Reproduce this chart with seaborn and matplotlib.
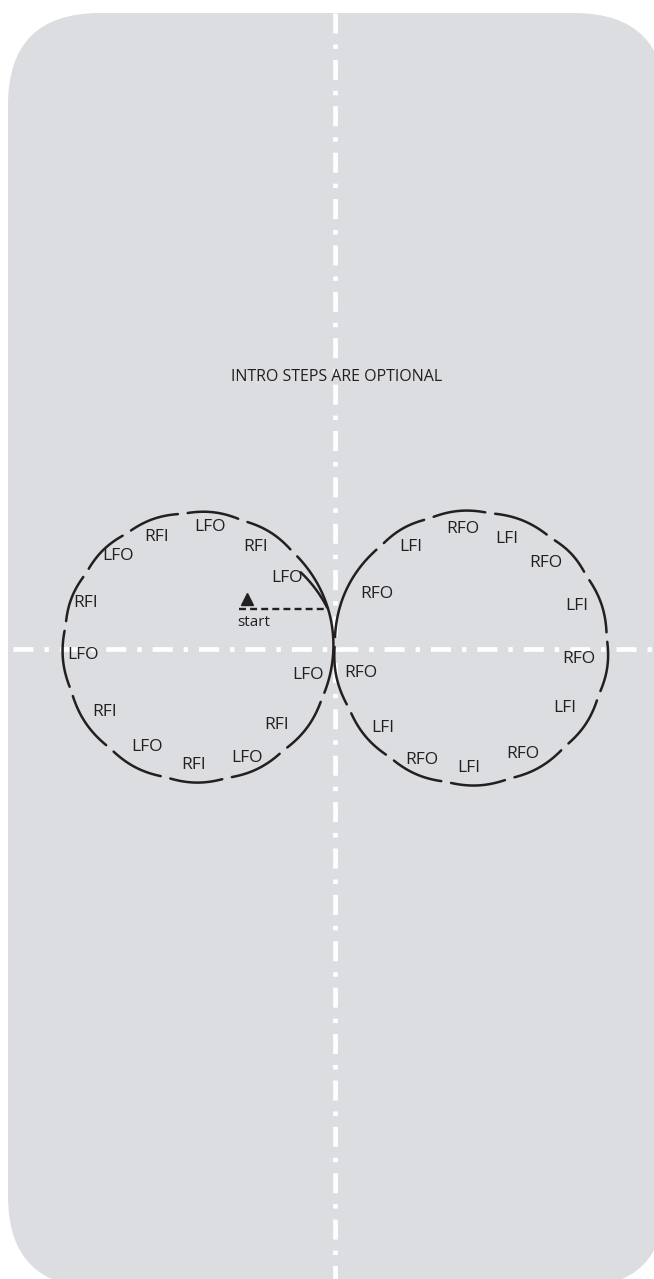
import numpy as np
import pandas as pd
import seaborn as sns
import matplotlib.pyplot as plt
from matplotlib.patches import FancyBboxPatch

# circle geometry (pixels, y down)
left_center = (198, 647)
left_radius = 135
right_center = (471, 648)
right_radius = 137

# step arcs, degrees (counter-clockwise, 0 = right)
left_arcs = [(46, 69), (72, 95), (98, 120.5), (123.5, 145), (148, 169.5),
             (172.5, 197.8), (200.8, 227.5), (230.5, 254.5), (257.5, 281),
             (284, 308), (311, 336.5), (339.5, 403)]
right_arcs = [(6, 30.4), (33.4, 52.7), (55.7, 80.4), (83.4, 106.5), (109.5, 130.3),
              (133.3, 176), (179, 205), (208, 232), (235, 258), (261, 285),
              (288, 312), (315, 338), (341, 363.2)]
# entry hook from the start line
hook_theta = (36, 17)
hook_r = (127, 135)

left_labels = ["LFO", "RFI", "LFO", "RFI", "LFO", "RFI", "LFO",
               "RFI", "LFO", "RFI", "LFO", "LFO", "RFI"]
left_lx = [210, 157, 118, 86, 83, 105, 147, 194, 247, 277, 308, 287, 256]
left_ly = [527, 537, 556, 603, 655, 712, 747, 765, 758, 725, 675, 578, 547]

right_labels = ["RFO", "LFI", "RFO", "LFI", "RFO", "LFI", "RFO",
                "LFI", "RFO", "LFI", "RFO", "RFO", "LFI"]
right_lx = [463, 507, 546, 577, 579, 565, 523, 469, 422, 383, 361, 377, 411]
right_ly = [529, 539, 563, 606, 659, 708, 754, 768, 760, 728, 673, 594, 547]

title = "INTRO STEPS ARE OPTIONAL"
start_label = "start"

ink = "#231f20"
ice = "#dcdde0"


def arc_points(center, radius, a0, a1, seg, bulge=1.2, trim=0.6):
    a0, a1 = a0 + trim, a1 - trim
    t = np.linspace(0, 1, 60)
    th = np.radians(a0 + (a1 - a0) * t)
    r = radius - 0.6 + bulge * np.sin(np.pi * t)
    return pd.DataFrame({"x": center[0] + r * np.cos(th),
                         "y": center[1] - r * np.sin(th), "seg": seg})


frames = []
for i, (a0, a1) in enumerate(left_arcs):
    frames.append(arc_points(left_center, left_radius, a0, a1, f"L{i}"))
for i, (a0, a1) in enumerate(right_arcs):
    frames.append(arc_points(right_center, right_radius, a0, a1, f"R{i}"))
t = np.linspace(0, 1, 30)
th = np.radians(hook_theta[0] + (hook_theta[1] - hook_theta[0]) * t)
rr = hook_r[0] + (hook_r[1] - hook_r[0]) * t
frames.append(pd.DataFrame({"x": left_center[0] + rr * np.cos(th),
                            "y": left_center[1] - rr * np.sin(th), "seg": "hook"}))
arcs = pd.concat(frames, ignore_index=True)

sns.set_theme(style="white")
plt.rcParams["font.family"] = ["Open Sans", "DejaVu Sans"]
plt.rcParams["lines.scale_dashes"] = False

fig = plt.figure(figsize=(6.54, 12.79), dpi=100)
ax = fig.add_axes([0, 0, 1, 1])

# rink
ax.add_patch(FancyBboxPatch((8, 13), 658, 1275, boxstyle="round,pad=0,rounding_size=92",
                            fc=ice, ec="none", zorder=0))

# center lines
dashdot = (0, (14.4, 7.9, 3.2, 7.9))
ax.plot([335, 335], [13, 1279], color="white", lw=3.4, ls=dashdot,
        dash_capstyle="butt", zorder=1)
ax.plot([13, 654], [649, 649], color="white", lw=3.4, ls=dashdot,
        dash_capstyle="butt", zorder=1)

sns.lineplot(data=arcs, x="x", y="y", units="seg", estimator=None, sort=False,
             color=ink, lw=1.8, ax=ax, legend=False, zorder=3)
ax.set_xlim(0, 654)
ax.set_ylim(1279, 0)
ax.axis("off")

# start marker and dashed entry line
ax.plot([239, 325], [609, 609], color=ink, lw=1.7, ls=(0, (5.0, 3.0)), zorder=3)
ax.plot([247], [599], marker="^", ms=9, color=ink, zorder=3)
ax.text(254, 622, start_label, fontsize=11, color=ink, ha="center", va="center")

for lab, x, y in zip(left_labels, left_lx, left_ly):
    ax.text(x, y, lab, fontsize=12.5, color=ink, ha="center", va="center", zorder=4)
for lab, x, y in zip(right_labels, right_lx, right_ly):
    ax.text(x, y, lab, fontsize=12.5, color=ink, ha="center", va="center", zorder=4)

ax.text(337, 377, title, fontsize=11.5, color=ink, ha="center", va="center", zorder=4)

plt.savefig("out.png", dpi=100)
